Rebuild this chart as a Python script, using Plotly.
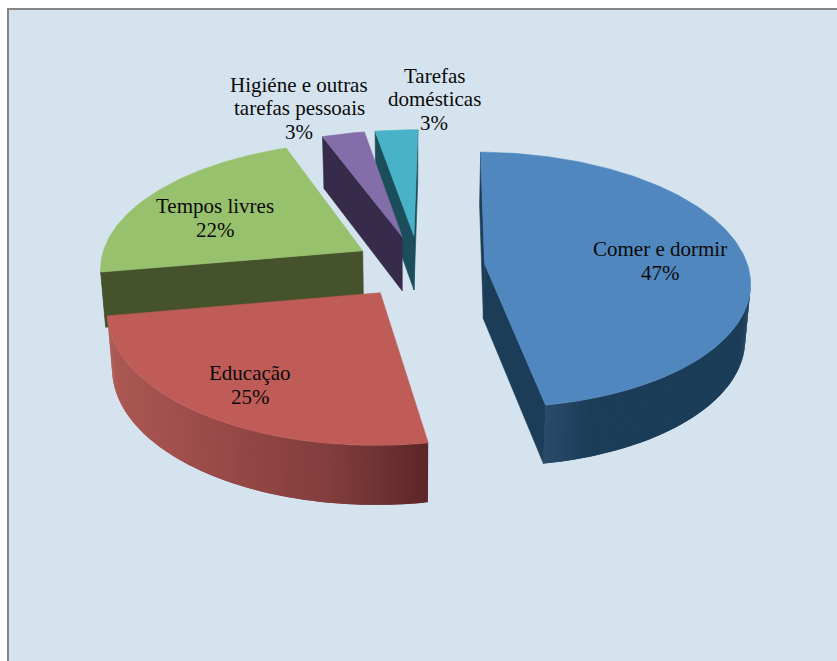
import math
import plotly.graph_objects as go

# Time-use shares, clockwise from twelve o'clock
categories = ["Comer e dormir", "Educação", "Tempos livres",
              "Higiéne e outras\ntarefas pessoais", "Tarefas\ndomésticas"]
shares = [47, 25, 22, 3, 3]
top_colors = ["#5187BF", "#C05C58", "#97C16D", "#846EA9", "#48B2C8"]
side_colors = ["#1C3D58", "#7A3A3A", "#45522C", "#372B4B", "#1B4D5A"]
label_centres = [(660, 261), (250, 385), (215, 218), (299, 108), (434, 99)]

# Pie geometry and perspective camera (pixel-space axes)
RADIUS = 263
EXPLODE = 0.25
CENTRE = (0.023, 0.01)
ROTATION = 1.0
VANISH_X, VANISH_Y, HEIGHT = 413, -743, 1008
FORESHORTEN = 0.125
DROP_NARROW = 0.984
LINE_PITCH = 23.5


def project(x, y):
    s = 1 / (1 - FORESHORTEN * y)
    return VANISH_X + RADIUS * x * s, VANISH_Y + HEIGHT * s, s


def project_low(x, y):
    px, py, s = project(x, y)
    return VANISH_X + (px - VANISH_X) * DROP_NARROW, py + 30 + 25 * s


def rim(apex, deg):
    a = math.radians(deg)
    return apex[0] + math.sin(a), apex[1] - math.cos(a)


def lerp_hex(stops, t):
    for (t0, c0), (t1, c1) in zip(stops, stops[1:]):
        if t <= t1:
            f = max(0, (t - t0) / (t1 - t0))
            rgb = [round(int(c0[i:i + 2], 16) * (1 - f) + int(c1[i:i + 2], 16) * f) for i in (1, 3, 5)]
            return "#%02X%02X%02X" % tuple(rgb)
    return stops[-1][1]


RED_SIDE = [(110, "#AC5853"), (210, "#9A4B49"), (330, "#813D3C"), (430, "#5C2628")]
BLUE_SIDE = [(540, "#2D4C6B"), (590, "#1C3D58"), (760, "#1C3D58")]
side_ramps = [BLUE_SIDE, RED_SIDE, None, None, None]

fig = go.Figure()


def polygon(points, color, edge=0.6):
    xs = [p[0] for p in points] + [points[0][0]]
    ys = [p[1] for p in points] + [points[0][1]]
    fig.add_trace(go.Scatter(x=xs, y=ys, mode="lines", fill="toself", fillcolor=color,
                             line=dict(color=color, width=edge), hoverinfo="skip", showlegend=False))


def faces_camera(nx, ny, px, py):
    return nx * (0 - px) + ny * (1 / FORESHORTEN - py) > 0


def cut_face(apex, deg, color):
    p = rim(apex, deg)
    polygon([project(*apex)[:2], project(*p)[:2], project_low(*p), project_low(*apex)], color)


# Slice angle spans
spans = []
start = ROTATION
for value in shares:
    spans.append((start, start + value * 3.6))
    start += value * 3.6

apexes = []
for a0, a1 in spans:
    mid = math.radians((a0 + a1) / 2)
    apexes.append((CENTRE[0] + EXPLODE * math.sin(mid), CENTRE[1] - EXPLODE * math.cos(mid)))

# Painter's order: farthest slices first
for i in [4, 3, 2, 0, 1]:
    a0, a1 = spans[i]
    apex = apexes[i]

    n0 = math.radians(a0 - 90)
    if faces_camera(math.sin(n0), -math.cos(n0), *apex):
        cut_face(apex, a0, side_colors[i])
    n1 = math.radians(a1 + 90)
    if faces_camera(math.sin(n1), -math.cos(n1), *apex):
        cut_face(apex, a1, side_colors[i])

    # Curved outer wall: strips overlap the next one so no seams show through
    steps = max(4, int((a1 - a0) * 1.5))
    angles = [a0 + (a1 - a0) * k / steps for k in range(steps + 1)]
    step = (a1 - a0) / steps
    for d0, d1 in zip(angles, angles[1:]):
        dm = math.radians((d0 + d1) / 2)
        p = rim(apex, math.degrees(dm))
        if not faces_camera(math.sin(dm), -math.cos(dm), *p):
            continue
        far = min(d1 + step, a1)
        p0, p1 = rim(apex, d0), rim(apex, far)
        ramp = side_ramps[i]
        color = lerp_hex(ramp, project(*p)[0]) if ramp else side_colors[i]
        polygon([project(*p0)[:2], project(*p1)[:2], project_low(*p1), project_low(*p0)], color, edge=0)

    # Top face
    steps = max(6, int(a1 - a0))
    outline = [project(*apex)[:2]]
    outline += [project(*rim(apex, a0 + (a1 - a0) * k / steps))[:2] for k in range(steps + 1)]
    polygon(outline, top_colors[i])

# Each label line is placed on its own so the leading stays tight
annotations = []
for name, value, (x, y) in zip(categories, shares, label_centres):
    lines = name.split("\n") + [f"{value}%"]
    top = y - LINE_PITCH * (len(lines) - 1) / 2
    for n, line in enumerate(lines):
        annotations.append(dict(x=x, y=top + n * LINE_PITCH, xref="x", yref="y", showarrow=False,
                                text=line, xanchor="center", yanchor="middle",
                                font=dict(family="Liberation Serif", size=21, color="#0A0A0A")))

fig.update_layout(
    width=837, height=661, margin=dict(l=0, r=0, t=0, b=0),
    paper_bgcolor="#FFFFFF", plot_bgcolor="#FFFFFF", showlegend=False,
    xaxis=dict(range=[0, 837], visible=False, fixedrange=True),
    yaxis=dict(range=[661, 0], visible=False, fixedrange=True),
    annotations=annotations,
    shapes=[dict(type="rect", xref="x", yref="y", x0=8, y0=9, x1=850, y1=680, layer="below",
                 fillcolor="#D5E3EE", line=dict(color="#868686", width=2))],
)

fig.write_html("out.html", config=dict(displayModeBar=False))
